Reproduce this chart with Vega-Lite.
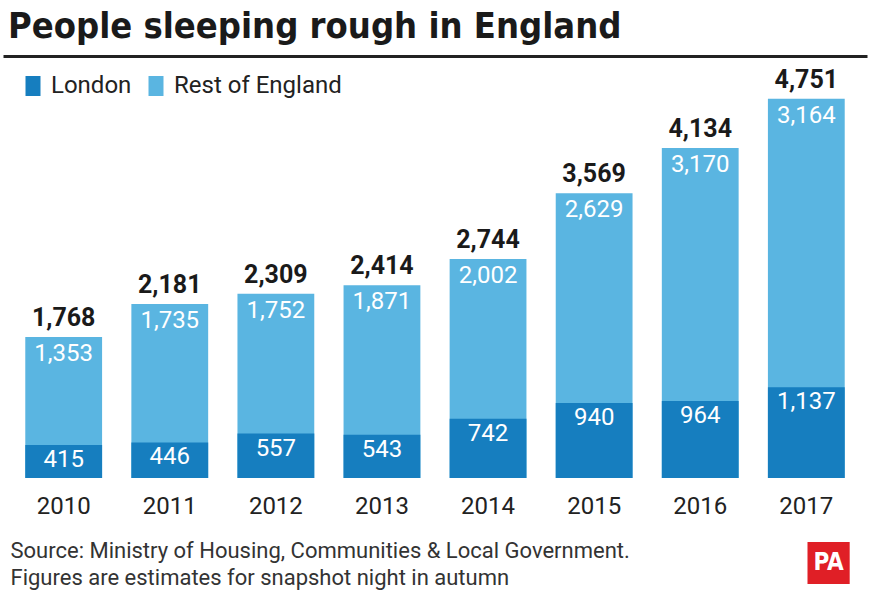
{
  "$schema": "https://vega.github.io/schema/vega-lite/v6.json",
  "autosize": "none",
  "width": 864,
  "height": 420,
  "padding": {"left": 3, "right": 5, "top": 58, "bottom": 118},
  "background": "white",
  "title": {
    "text": "People sleeping rough in England",
    "anchor": "start",
    "font": "DejaVu Sans Condensed, sans-serif",
    "fontSize": 36,
    "fontWeight": "bold",
    "color": "#1a1a1a",
    "dx": 5,
    "offset": 10
  },
  "config": {
    "view": {"stroke": null},
    "font": "Roboto",
    "text": {"font": "Roboto"}
  },
  "data": {
    "values": [
      {"year": "2010", "london": 415, "rest": 1353, "total": 1768},
      {"year": "2011", "london": 446, "rest": 1735, "total": 2181},
      {"year": "2012", "london": 557, "rest": 1752, "total": 2309},
      {"year": "2013", "london": 543, "rest": 1871, "total": 2414},
      {"year": "2014", "london": 742, "rest": 2002, "total": 2744},
      {"year": "2015", "london": 940, "rest": 2629, "total": 3569},
      {"year": "2016", "london": 964, "rest": 3170, "total": 4134},
      {"year": "2017", "london": 1137, "rest": 3164, "total": 4751}
    ]
  },
  "resolve": {"axis": {"x": "independent"}},
  "encoding": {
    "x": {
      "field": "year",
      "type": "nominal",
      "scale": {"paddingInner": 0.276, "paddingOuter": 0.21}
    }
  },
  "layer": [
    {
      "mark": {"type": "bar"},
      "encoding": {
        "x": {
          "field": "year",
          "type": "nominal",
          "axis": {
            "orient": "bottom",
            "domain": false,
            "ticks": false,
            "labelAngle": 0,
            "labelFont": "Roboto",
            "labelFontSize": 24,
            "labelColor": "#222222",
            "labelPadding": 16,
            "title": ["Source: Ministry of Housing, Communities & Local Government.", "Figures are estimates for snapshot night in autumn"],
            "titleFont": "Roboto",
            "titleFontSize": 22,
            "titleFontWeight": "normal",
            "titleColor": "#333333",
            "titleAnchor": "start",
            "titleAlign": "left",
            "titleBaseline": "alphabetic",
            "titleX": 7,
            "titleY": 79,
            "titleLineHeight": 27
          }
        },
        "y": {
          "field": "total",
          "type": "quantitative",
          "scale": {"domain": [0, 5263], "nice": false},
          "axis": null
        },
        "color": {
          "datum": "Rest of England",
          "type": "nominal",
          "scale": {"domain": ["London", "Rest of England"], "range": ["#167ebf", "#5ab5e1"]},
          "legend": {
            "orient": "none",
            "legendX": 18,
            "legendY": 16,
            "direction": "horizontal",
            "title": null,
            "symbolType": "M-0.75,-1H0.75V1H-0.75Z",
            "symbolSize": 400,
            "symbolStrokeWidth": 0,
            "labelFont": "Roboto",
            "labelFontSize": 24,
            "labelLimit": 400,
            "labelColor": "#222222",
            "labelOffset": 6,
            "columnPadding": 12
          }
        }
      }
    },
    {
      "mark": {"type": "bar"},
      "encoding": {
        "x": {"field": "year", "type": "nominal", "axis": null},
        "y": {"field": "london", "type": "quantitative"},
        "color": {"datum": "London", "type": "nominal"}
      }
    },
    {
      "mark": {"type": "text", "fontSize": 25, "fontWeight": "bold", "baseline": "bottom", "dy": -6, "color": "#1a1a1a"},
      "encoding": {
        "x": {"field": "year", "type": "nominal", "axis": null},
        "y": {"field": "total", "type": "quantitative"},
        "text": {"field": "total", "type": "quantitative", "format": ","}
      }
    },
    {
      "mark": {"type": "text", "fontSize": 24, "baseline": "top", "dy": 5, "color": "white"},
      "encoding": {
        "x": {"field": "year", "type": "nominal", "axis": null},
        "y": {"field": "total", "type": "quantitative"},
        "text": {"field": "rest", "type": "quantitative", "format": ","}
      }
    },
    {
      "mark": {"type": "text", "fontSize": 24, "baseline": "top", "dy": 3, "color": "white"},
      "encoding": {
        "x": {"field": "year", "type": "nominal", "axis": null},
        "y": {"field": "london", "type": "quantitative"},
        "text": {"field": "london", "type": "quantitative", "format": ","}
      }
    },
    {
      "data": {"values": [{"year": "2017", "logo": "PA"}]},
      "mark": {"type": "point", "shape": "square", "size": 1780, "filled": true, "color": "#e01f26", "opacity": 1, "clip": false},
      "encoding": {
        "x": {
          "field": "year",
          "type": "nominal",
          "bandPosition": 0.79,
          "axis": {"orient": "top", "labels": false, "ticks": false, "domain": true, "domainWidth": 3, "domainColor": "#222222", "offset": 2, "title": null}
        },
        "y": {"datum": -1065, "type": "quantitative"}
      }
    },
    {
      "data": {"values": [{"year": "2017", "logo": "PA"}]},
      "mark": {"type": "text", "font": "DejaVu Sans Condensed, sans-serif", "fontSize": 24, "fontWeight": "bold", "color": "white", "baseline": "middle", "align": "center", "clip": false},
      "encoding": {
        "x": {"field": "year", "type": "nominal", "bandPosition": 0.79, "axis": null},
        "y": {"datum": -1065, "type": "quantitative"},
        "text": {"field": "logo", "type": "nominal"}
      }
    }
  ]
}
